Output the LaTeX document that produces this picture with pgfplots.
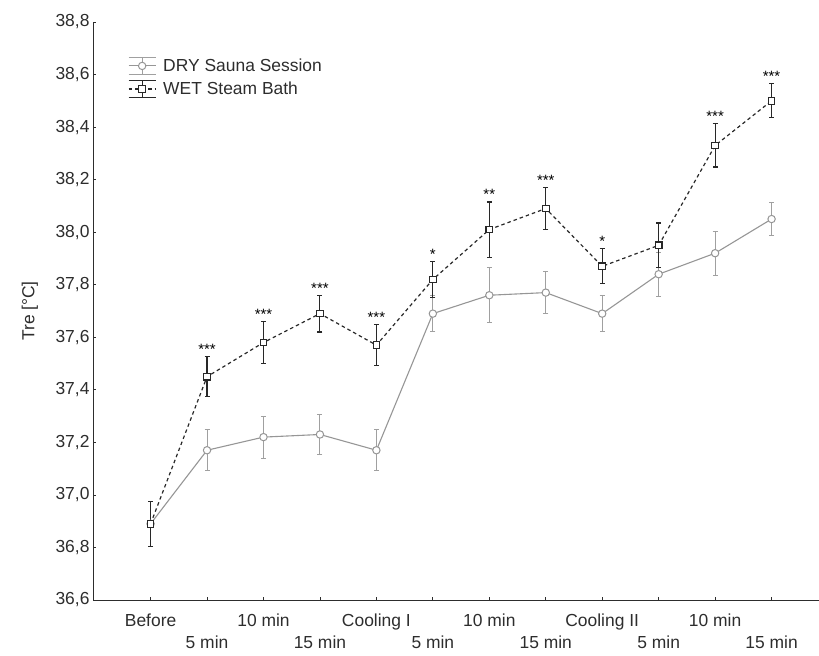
\documentclass[border=0pt]{standalone}
\usepackage{fontspec}
\setmainfont{Liberation Sans}
\usepackage{pgfplots}
\usepackage{pgfplotstable}
\pgfplotsset{compat=1.18}
\definecolor{dry}{RGB}{150,150,150}
\definecolor{dryerr}{RGB}{160,160,160}
\definecolor{wet}{RGB}{40,40,40}
\definecolor{txt}{RGB}{45,45,45}

\pgfplotsset{
  drylegend/.style={legend image code/.code={
    \draw[dryerr, solid, line width=1bp] (0bp,-8.5bp) -- (27bp,-8.5bp) (0bp,8.5bp) -- (27bp,8.5bp) (13.5bp,-8.5bp) -- (13.5bp,8.5bp);
    \draw[##1, mark repeat=2, mark phase=2] plot coordinates {(0bp,0bp) (13.5bp,0bp) (27bp,0bp)};
  }},
  wetlegend/.style={legend image code/.code={
    \draw[wet, solid, line width=1.1bp] (0bp,-8.5bp) -- (27bp,-8.5bp) (0bp,8.5bp) -- (27bp,8.5bp) (13.5bp,-8.5bp) -- (13.5bp,8.5bp);
    \draw[##1, mark repeat=2, mark phase=2] plot coordinates {(0bp,0bp) (13.5bp,0bp) (27bp,0bp)};
  }},
}

\pgfplotstableread{
x y e
0 36.89 0.085
1 37.17 0.078
2 37.22 0.080
3 37.23 0.075
4 37.17 0.078
5 37.69 0.068
6 37.76 0.105
7 37.77 0.080
8 37.69 0.068
9 37.84 0.084
10 37.92 0.084
11 38.05 0.062
}\drytable

\pgfplotstableread{
x y e
0 36.89 0.085
1 37.45 0.077
2 37.58 0.080
3 37.69 0.070
4 37.57 0.078
5 37.82 0.068
6 38.01 0.105
7 38.09 0.080
8 37.87 0.067
9 37.95 0.085
10 38.33 0.082
11 38.50 0.065
}\wettable

\pgfplotstableread{
x y label
1 37.527 ***
2 37.660 ***
3 37.760 ***
4 37.648 ***
5 37.888 *
6 38.115 **
7 38.170 ***
8 37.937 *
10 38.412 ***
11 38.565 ***
}\startable

\newcommand{\lblfont}{\fontsize{17.5}{22}\selectfont}

\begin{document}
\begin{tikzpicture}
\useasboundingbox (0,0) rectangle (819bp,656bp);
\begin{axis}[
  at={(93bp,56bp)}, anchor=south west,
  scale only axis, width=726bp, height=578bp,
  xmin=-1.02, xmax=11.84, ymin=36.6, ymax=38.8,
  axis x line*=bottom, axis y line*=left,
  axis line style={txt, line width=1bp, -},
  tick align=inside, major tick length=3bp,
  tick style={txt, line width=0.8bp},
  clip=false,
  ytick={36.6,36.8,37.0,37.2,37.4,37.6,37.8,38.0,38.2,38.4,38.6,38.8},
  xtick={0,1,2,3,4,5,6,7,8,9,10,11},
  xticklabels={{\strut Before\\\strut},{\strut\\\strut 5 min},{\strut 10 min\\\strut},{\strut\\\strut 15 min},{\strut Cooling I\\\strut},{\strut\\\strut 5 min},{\strut 10 min\\\strut},{\strut\\\strut 15 min},{\strut Cooling II\\\strut},{\strut\\\strut 5 min},{\strut 10 min\\\strut},{\strut\\\strut 15 min}},
  xticklabel style={align=center, font=\lblfont, text=txt, yshift=-8bp},
  yticklabel style={font=\lblfont, text=txt},
  /pgf/number format/.cd, use comma, fixed, fixed zerofill, precision=1, assume math mode=true,
  /pgfplots/.cd,
  ylabel={Tre [°C]},
  ylabel style={at={(axis description cs:-0.087,0.5)}, anchor=center, font=\lblfont, text=txt},
  legend style={draw=none, fill=none, at={(axis description cs:0.048,0.94)}, anchor=north west,
    font=\lblfont, text=txt, row sep=5bp, column sep=5bp, inner sep=0pt},
  legend cell align=left,
]
\addplot[dry, line width=1.1bp, mark=*, mark size=3.7bp,
  mark options={fill=white, draw=dry, solid, line width=1bp}, drylegend,
  error bars/.cd, y dir=both, y explicit,
  error bar style={dryerr, line width=1bp, solid},
  error mark options={dryerr, mark size=2.5bp, line width=1bp, solid, rotate=90}]
  table[x=x, y=y, y error=e] {\drytable};
\addlegendentry{DRY Sauna Session}
\addplot[wet, line width=1.2bp, dash pattern=on 3.5bp off 3bp, mark=square*, mark size=3.3bp,
  mark options={fill=white, draw=wet, solid, line width=1.1bp}, wetlegend,
  error bars/.cd, y dir=both, y explicit,
  error bar style={wet, line width=1.1bp, solid},
  error mark options={wet, mark size=2.5bp, line width=1.1bp, solid, rotate=90}]
  table[x=x, y=y, y error=e] {\wettable};
\addlegendentry{WET Steam Bath}
\addplot[draw=none, mark=none, forget plot,
  nodes near coords, point meta=explicit symbolic,
  nodes near coords style={anchor=south, inner sep=2bp, font=\fontsize{15}{15}\selectfont, text=black}]
  table[x=x, y=y, meta=label] {\startable};
\end{axis}
\end{tikzpicture}
\end{document}
